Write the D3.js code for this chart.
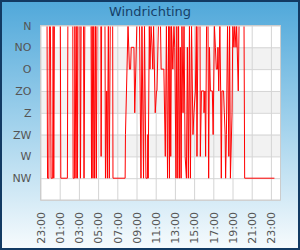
<!DOCTYPE html>
<html>
<head>
<meta charset="utf-8">
<script src="https://cdn.jsdelivr.net/npm/d3@7"></script>
<style>
  body { margin: 0; }
  svg { display: block; font-family: "DejaVu Sans", sans-serif; }
</style>
</head>
<body>
<div id="chart"></div>
<script>
const W = 300, H = 250;
const margin = {top: 25.5, right: 19.5, bottom: 50, left: 40.5};

// direction labels from bottom to top
const directions = ["NW", "W", "ZW", "Z", "ZO", "O", "NO", "N"];

// x axis tick labels
const tickLabels = ["23:00","01:00","03:00","05:00","07:00","09:00","11:00","13:00","15:00","17:00","19:00","21:00","23:00"];

// measurement times (HH:MM, 23:00 on day one until 23:22 next day)
const times = [
  "23:41","23:44","23:52","23:56","00:02","00:06","00:16","00:19","00:23","00:27",
  "01:04","01:07","01:48","01:51","02:22","02:24","02:32","02:35","02:42","02:47",
  "02:51","02:54","03:07","03:10","03:14","03:29","03:32","03:37","04:16","04:19",
  "04:23","04:28","04:33","04:38","04:44","04:49","04:53","05:17","05:19","05:22",
  "05:43","05:46","05:54","05:58","06:04","06:10","06:16","06:31","06:33","07:49",
  "07:51","08:07","08:16","08:23","08:27","08:44","08:49","09:02","09:19","09:28",
  "09:34","09:44","09:50","09:59","10:08","10:11","10:13","10:20","10:24","10:31",
  "10:37","10:42","10:47","10:57","11:05","11:08","11:17","11:30","11:34","11:51",
  "12:00","12:07","12:14","12:21","12:26","12:29","12:34","12:39","12:47","12:54",
  "12:59","13:07","13:12","13:18","13:23","13:29","13:34","13:39","13:44","13:51",
  "13:57","14:04","14:12","14:18","14:24","14:31","14:37","14:44","14:53","14:59",
  "15:08","15:14","15:18","15:24","15:37","15:39","15:46","16:01","16:02","16:08",
  "16:12","16:18","16:27","16:31","16:36","16:42","16:54","16:59","17:07","17:13",
  "17:19","17:26","17:29","17:34","17:41","17:46","17:50","17:54","18:04","18:09",
  "18:14","18:17","18:22","18:29","18:37","18:42","18:47","18:57","19:02","19:09",
  "19:14","19:22","19:26","19:36","19:41","20:12","20:16","23:22"
];
const winds = [
  "N","NW","NW","N","N","NW","NW","N","NW","N",
  "N","NW","NW","N","N","NW","NW","N","NW","N",
  "NW","N","N","NW","N","N","NW","N","N","NW",
  "N","NW","N","NW","N","NW","N","N","W","N",
  "N","NW","ZO","NW","N","NW","N","N","NW","NW",
  "ZW","N","O","O","NO","NO","Z","N","N","NW",
  "N","NW","N","NW","NW","ZW","NW","N","O","N",
  "NO","O","N","Z","ZO","ZO","N","N","O","O",
  "W","N","NW","N","NW","N","W","N","O","N",
  "NO","NW","N","NW","N","NW","NO","NW","N","Z",
  "N","W","NW","NO","NW","N","NW","N","ZW","Z",
  "ZO","N","W","N","N","W","ZO","ZO","Z","ZO",
  "W","N","N","NW","NO","ZO","ZO","ZW","N","NO",
  "O","O","NO","ZO","N","ZO","NW","ZO","ZO","Z",
  "ZW","NW","ZW","N","W","N","NW","Z","N","NO",
  "N","NO","N","ZO","N","N","NW","NW"
];

// turn a list of HH:MM strings into dates, moving to the next day
// whenever the clock goes back (the list starts at 23:00 on day 0)
const parse = d3.timeParse("%H:%M");
function toDates(list) {
  let day = 0, prev = 23 * 60;
  return list.map(t => {
    const d = parse(t);
    const mins = d.getHours() * 60 + d.getMinutes();
    if (mins < prev) day++;
    prev = mins;
    return new Date(2000, 0, 1 + day, d.getHours(), d.getMinutes());
  });
}

const dates = toDates(times);
const data = dates.map((d, i) => ({date: d, level: directions.indexOf(winds[i]) + 1}));
const tickDates = toDates(tickLabels);

const start = new Date(2000, 0, 1, 23, 0);
const end = new Date(2000, 0, 3, 0, 0);

const svg = d3.select("#chart").append("svg")
  .attr("width", W)
  .attr("height", H);

const grad = svg.append("defs").append("linearGradient")
  .attr("id", "bg").attr("x1", 0).attr("y1", 0).attr("x2", 0).attr("y2", 1);
grad.append("stop").attr("offset", "0%").attr("stop-color", "#50a8da");
grad.append("stop").attr("offset", "50%").attr("stop-color", "#a2d2ec");
grad.append("stop").attr("offset", "100%").attr("stop-color", "#f7fbfd");

svg.append("rect")
  .attr("x", 1).attr("y", 1)
  .attr("width", W - 2).attr("height", H - 2)
  .attr("fill", "url(#bg)")
  .attr("stroke", "#123a63")
  .attr("stroke-width", 2);

svg.append("text")
  .attr("x", W / 2).attr("y", 16)
  .attr("text-anchor", "middle")
  .attr("font-size", 13)
  .attr("fill", "#163f68")
  .text("Windrichting");

const x = d3.scaleTime().domain([start, end]).range([margin.left, W - margin.right]);
const y = d3.scaleLinear().domain([0, 8]).range([H - margin.bottom, margin.top]);

const plot = svg.append("g");
plot.append("rect")
  .attr("x", x.range()[0]).attr("y", y(8))
  .attr("width", x.range()[1] - x.range()[0])
  .attr("height", y(0) - y(8))
  .attr("fill", "#fff");

// alternating bands
plot.selectAll(".band")
  .data([2, 4, 6])
  .enter().append("rect")
  .attr("x", x.range()[0])
  .attr("y", d => y(d + 1))
  .attr("width", x.range()[1] - x.range()[0])
  .attr("height", d => y(d) - y(d + 1))
  .attr("fill", "#f2f2f2");

// axes
const xAxis = d3.axisBottom(x)
  .tickValues(tickDates)
  .tickSize(-(y(0) - y(8)))
  .tickFormat((d, i) => tickLabels[i]);
const gx = plot.append("g")
  .attr("transform", "translate(0," + y(0) + ")")
  .call(xAxis);
gx.select(".domain").remove();
gx.selectAll(".tick line").attr("stroke", "#d4d4d4");
gx.selectAll(".tick text")
  .attr("transform", "rotate(-90)")
  .attr("text-anchor", "end")
  .attr("x", -12).attr("y", 0).attr("dy", "0.35em")
  .attr("font-size", 11)
  .attr("font-family", "DejaVu Sans, sans-serif")
  .attr("fill", "#555");

const yAxis = d3.axisLeft(y)
  .tickValues(d3.range(0, 9))
  .tickSize(-(x.range()[1] - x.range()[0]))
  .tickFormat(d => d === 0 ? "" : directions[d - 1]);
const gy = plot.append("g")
  .attr("transform", "translate(" + x.range()[0] + ",0)")
  .call(yAxis);
gy.select(".domain").remove();
gy.selectAll(".tick line").attr("stroke", "#d4d4d4");
gy.selectAll(".tick text")
  .attr("x", -9)
  .attr("font-size", 11)
  .attr("font-family", "DejaVu Sans, sans-serif")
  .attr("fill", "#555");

plot.append("rect")
  .attr("x", x.range()[0]).attr("y", y(8))
  .attr("width", x.range()[1] - x.range()[0])
  .attr("height", y(0) - y(8))
  .attr("fill", "none")
  .attr("stroke", "#cccccc");

svg.append("clipPath").attr("id", "clip")
  .append("rect")
  .attr("x", x.range()[0]).attr("y", y(8) + 1)
  .attr("width", x.range()[1] - x.range()[0])
  .attr("height", y(0) - y(8) - 1);

const line = d3.line()
  .x(d => x(d.date))
  .y(d => y(d.level));

svg.append("path")
  .datum(data)
  .attr("clip-path", "url(#clip)")
  .attr("fill", "none")
  .attr("stroke", "#ff0000")
  .attr("stroke-width", 1)
  .attr("d", line);
</script>
</body>
</html>
